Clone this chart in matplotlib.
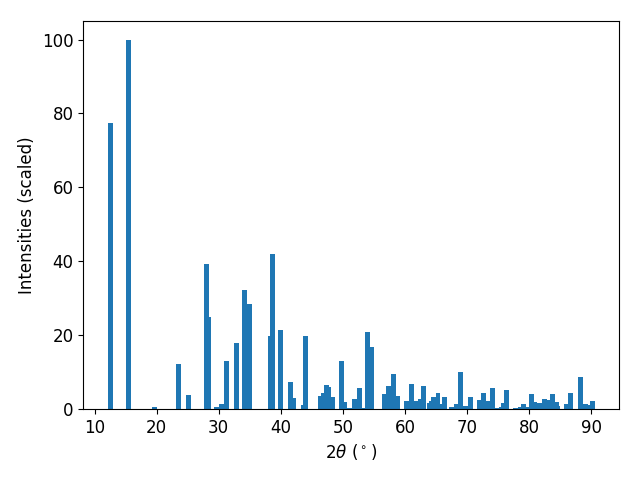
import numpy as np
import matplotlib.pyplot as plt

# peak positions (2theta, degrees) and scaled intensities
two_theta = np.array([
    12.5, 15.4, 19.6, 23.6, 25.2, 28.1, 28.4, 29.6, 30.4, 31.2,
    32.9, 34.2, 35.0, 38.4, 38.7, 39.9, 41.5, 42.0, 43.6, 44.0,
    46.4, 46.8, 47.3, 47.6, 48.3, 49.7, 50.3, 51.0, 51.9, 52.6,
    53.3, 54.0, 54.6, 56.7, 57.4, 58.2, 58.8, 60.3, 61.1, 61.7,
    62.5, 63.0, 63.9, 64.3, 64.6, 65.3, 65.7, 66.4, 67.5, 68.2,
    69.0, 69.7, 70.6, 72.0, 72.7, 73.4, 74.1, 74.9, 75.5, 75.8,
    76.3, 77.8, 78.5, 79.1, 79.6, 80.4, 80.9, 81.7, 82.4, 82.9,
    83.3, 83.8, 84.3, 84.6, 86.0, 86.7, 88.2, 89.1, 89.6, 90.1,
])
intensity = np.array([
    77.4, 100.0, 0.5, 12.2, 3.8, 39.3, 24.9, 0.6, 1.4, 13.0,
    17.9, 32.2, 28.5, 19.8, 42.0, 21.4, 7.3, 3.0, 1.1, 19.8,
    3.5, 4.3, 6.5, 6.0, 3.2, 13.0, 1.9, 0.3, 2.7, 5.7,
    0.3, 20.9, 16.8, 4.1, 6.2, 9.5, 3.5, 2.2, 6.8, 2.2,
    2.7, 6.2, 1.6, 2.2, 3.2, 4.3, 1.4, 3.2, 0.5, 1.4,
    10.0, 0.8, 3.2, 2.4, 4.3, 2.2, 5.7, 0.3, 0.5, 1.6,
    5.1, 0.3, 0.5, 1.4, 0.5, 4.1, 1.9, 1.6, 2.7, 2.4,
    1.4, 4.1, 1.9, 0.8, 1.4, 4.3, 8.7, 1.4, 1.0, 2.2,
])

# draw weak peaks first so strong ones sit on top where bars overlap
order = np.argsort(intensity, kind="stable")

fig, ax = plt.subplots(figsize=(6.4, 4.8), dpi=100)
ax.bar(two_theta[order], intensity[order], width=0.8, color="tab:blue")
ax.set_xlabel(r"$2\theta$ ($^\circ$)", fontsize=12)
ax.set_ylabel("Intensities (scaled)", fontsize=12)
ax.tick_params(labelsize=12)
fig.subplots_adjust(left=0.13, right=0.967, top=0.956, bottom=0.148)
plt.savefig("out.png")
